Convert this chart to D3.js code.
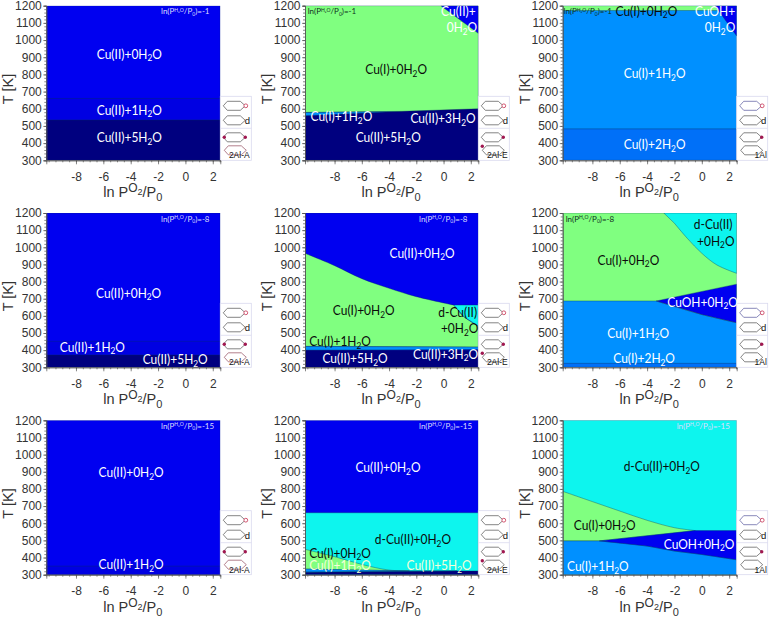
<!DOCTYPE html>
<html><head><meta charset="utf-8">
<script src="https://cdnjs.cloudflare.com/ajax/libs/d3/7.8.5/d3.min.js"></script>
<style>html,body{margin:0;padding:0;background:#fff}svg{display:block}</style>
</head><body><svg id="c" width="770" height="621"></svg>
<script>
// ---------- data (ln P in x, T in K in y) ----------
const lnPDomain = [-10.17, 2.55];
const tempDomain = [300, 1200];
const xTickValues = [-8, -6, -4, -2, 0, 2];
const yTickValues = [300, 400, 500, 600, 700, 800, 900, 1000, 1100, 1200];
const waterLevels = [-1, -8, -15];
const siteNames = ["2Al-A", "2Al-E", "1Al"];

const L = lnPDomain[0], R = lnPDomain[1], B = tempDomain[0], U = tempDomain[1];
const band = (lo, hi) => [[L, lo], [R, lo], [R, hi], [L, hi]];

// region = [state, outline, optional [first,last] index ranges of the outline that are curved]
const regions00 = [["II0", band(B, U)], ["II1", band(B, 660)], ["II5", band(B, 535)]];
const regions01 = [
  ["II5", band(B, U)],
  ["I1", [[L, 560], [-3, 585], [L, 579]]],
  ["I0", [[L, 579], [-3, 585], [R, 600], [R, U], [L, U]]],
  ["II0", [[-0.2, U], [R, U], [R, 1039]]]
];
const regions02 = [
  ["I1", band(B, U)], ["I2", band(B, 483)], ["I0", band(1172, U)],
  ["II0", [[0.97, U], [R, U], [R, 1023]]]
];
const regions10 = [["II0", band(B, U)], ["II1", band(B, 452)], ["II5", band(B, 372)]];
const regions11 = [
  ["II0", band(B, U)],
  ["I0", [[L, 965], [-8, 893], [-6, 817], [-4, 761], [-2, 712], [0.75, 663], [1.5, 595], [R, 540], [R, 418], [L, 422]], [[0, 5], [5, 7]]],
  ["dII", [[0.75, 663], [R, 663], [R, 540], [1.5, 595]]],
  ["I1", [[L, 422], [R, 418], [R, 404], [L, 398]]],
  ["II5", band(B, 400)]
];
const regions12 = [
  ["I0", band(B, U)],
  ["dII", [[-2.78, U], [R, U], [R, 848], [1.1, 897], [0, 965], [-1.06, 1052], [-2, 1140]], [[2, 6]]],
  ["I1", [[L, 687], [-3.33, 687], [0, 608], [R, 560], [R, B], [L, B]], [[1, 3]]],
  ["II0", [[-3.33, 687], [R, 785], [R, 560], [0, 608]]],
  ["I2", band(B, 323)]
];
const regions20 = [["II0", band(B, U)], ["II1", band(B, 350)]];
const regions21 = [
  ["II0", band(B, U)],
  ["dII", band(B, 661)],
  ["I0", [[L, 448], [-8, 405], [-6, 360], [-4, 327], [-2.5, 322], [L, 333]], [[0, 4]]],
  ["I1", [[L, 333], [-2.5, 322], [1, 322], [L, 316]]],
  ["II5", [[L, B], [R, B], [R, 322], [1, 322], [L, 314]]]
];
const regions22 = [
  ["dII", band(B, U)],
  ["I0", [[L, 786], [-8, 726], [-6, 671], [-4, 617], [-2, 574], [-0.47, 557], [-7.5, 497], [L, 497]], [[0, 5]]],
  ["I1", [[L, 497], [-7.5, 497], [-4, 467], [-2, 438], [0, 418], [R, 387], [R, B], [L, B]], [[1, 5]]],
  ["II0", [[-7.5, 497], [-0.47, 557], [R, 557], [R, 387], [0, 418], [-2, 438], [-4, 467]]]
];

const labels00 = [["Cu(II)+0H_2O", -4.1, 890], ["Cu(II)+1H_2O", -4.1, 564], ["Cu(II)+5H_2O", -4.1, 405]];
const labels01 = [["Cu(II)+", 1.09, 1142], ["0H_2O", 1.35, 1045], ["Cu(I)+0H_2O", -3.48, 802], ["Cu(I)+1H_2O", -7.5, 527], ["Cu(II)+3H_2O", -0.04, 517], ["Cu(II)+5H_2O", -4.06, 405]];
const labels02 = [["Cu(I)+0H_2O", -4.05, 1142], ["CuOH+", 0.97, 1142], ["0H_2O", 1.33, 1045], ["Cu(I)+1H_2O", -3.45, 779], ["Cu(I)+2H_2O", -3.45, 364]];
const labels10 = [["Cu(II)+0H_2O", -4.15, 706], ["Cu(II)+1H_2O", -6.8, 391], ["Cu(II)+5H_2O", -0.75, 319]];
const labels11 = [["Cu(II)+0H_2O", -1.58, 938], ["Cu(I)+0H_2O", -5.86, 605], ["d-Cu(II)", 1.04, 595], ["+0H_2O", 1.18, 498], ["Cu(I)+1H_2O", -7.6, 422], ["Cu(II)+3H_2O", 0.15, 349], ["Cu(II)+5H_2O", -6.5, 323]];
const labels12 = [["d-Cu(II)", 0.83, 1107], ["+0H_2O", 1.02, 1010], ["Cu(I)+0H_2O", -5.37, 899], ["CuOH+0H_2O", 0.06, 654], ["Cu(I)+1H_2O", -4.65, 471], ["Cu(I)+2H_2O", -4.22, 323]];
const labels20 = [["Cu(II)+0H_2O", -3.97, 869], ["Cu(II)+1H_2O", -3.97, 333]];
const labels21 = [["Cu(II)+0H_2O", -4.08, 897], ["d-Cu(II)+0H_2O", -2.25, 477], ["Cu(I)+0H_2O", -7.6, 399], ["Cu(I)+1H_2O", -7.6, 327], ["Cu(II)+5H_2O", -0.33, 327]];
const labels22 = [["d-Cu(II)+0H_2O", -2.93, 903], ["Cu(I)+0H_2O", -7.1, 562], ["CuOH+0H_2O", -0.2, 452], ["Cu(I)+1H_2O", -7.6, 319]];

const darkLabels = { "01": [2], "02": [0], "11": [1, 2, 3, 4], "12": [0, 1, 2], "21": [1, 2], "22": [0, 1] };
const paleLabels = { "21": [3, 4] };

const panelRegions = [[regions00, regions01, regions02], [regions10, regions11, regions12], [regions20, regions21, regions22]];
const panelLabels = [[labels00, labels01, labels02], [labels10, labels11, labels12], [labels20, labels21, labels22]];

// ---------- layout and style ----------
const colLeft = [46.3, 305, 562.7], colRight = [220.3, 478.3, 736.7];
const rowTop = [5.7, 213, 420.3], rowBottom = [160.3, 367.3, 574.7];
const stateColor = { II0: "#0000f0", II1: "#0000e2", II5: "#00007f", I0: "#80ff80", I1: "#0090ff", I2: "#0070f8", dII: "#0df5ee" };
const labelFont = "Lato, 'Open Sans', sans-serif", axisFont = "'Liberation Sans', Arial, sans-serif";
const titlePos = [[161, 307.7, 563.5], [161, 419, 565.7], [161, 419, 676.7]];
const titleDark = { "01": 1, "02": 1, "12": 1 };

const svg = d3.select("#c");

function rich(sel, str, subDy, subSize) {
  str.split("_").forEach((part, i) => {
    if (i === 0) { sel.append("tspan").text(part); return; }
    sel.append("tspan").attr("dy", subDy).attr("font-size", subSize).text(part[0]);
    if (part.length > 1) sel.append("tspan").attr("dy", -subDy).text(part.slice(1));
  });
}

function icons(g, x0, y0, site) {
  const box = g.append("g").attr("transform", `translate(${x0},${y0})`);
  box.append("rect").attr("width", 31).attr("height", 64).attr("fill", "#fff").attr("stroke", "#d9d9ee").attr("stroke-width", 0.8);
  box.append("line").attr("x1", 0).attr("x2", 31).attr("y1", 32).attr("y2", 32).attr("stroke", "#d9d9ee").attr("stroke-width", 0.8);
  const ring = (cx, cy, col) => box.append("path")
    .attr("d", `M${cx - 11} ${cy}L${cx - 7} ${cy - 4.5}H${cx + 6}L${cx + 11} ${cy}L${cx + 6} ${cy + 4.5}H${cx - 7}Z`)
    .attr("fill", "none").attr("stroke", col).attr("stroke-width", 0.8);
  ring(14, 9.5, site === "1Al" ? "#6a6aa8" : "#666");
  ring(14, 24, "#666");
  ring(14, 41, "#666");
  ring(15, 54, site === "2Al-A" ? "#a06070" : "#666");
  box.append("circle").attr("cx", 25.5).attr("cy", 9.5).attr("r", 1.9).attr("fill", "#fff").attr("stroke", "#c83050").attr("stroke-width", 0.8);
  const dot = (x, y) => box.append("circle").attr("cx", x).attr("cy", y).attr("r", 1.7).attr("fill", "#a01850");
  dot(25, 41);
  if (site === "2Al-A") dot(4, 41);
  if (site === "2Al-E") dot(4, 50);
  box.append("text").attr("x", 27).attr("y", 28).attr("text-anchor", "middle").attr("font-family", axisFont).attr("font-size", 9.5).attr("fill", "#111").text("d");
  box.append("text").attr("x", site === "1Al" ? 24 : 19).attr("y", 62).attr("text-anchor", "middle").attr("font-family", axisFont).attr("font-size", 8.5).attr("fill", "#111").text(site);
}

waterLevels.forEach((level, r) => {
  siteNames.forEach((site, c) => {
    const key = `${r}${c}`;
    const x = d3.scaleLinear().domain(lnPDomain).range([colLeft[c], colRight[c]]);
    const y = d3.scaleLinear().domain(tempDomain).range([rowBottom[r], rowTop[r]]);
    const g = svg.append("g");
    const clipId = `clip${key}`;
    g.append("clipPath").attr("id", clipId).append("rect")
      .attr("x", colLeft[c]).attr("y", rowTop[r]).attr("width", colRight[c] - colLeft[c]).attr("height", rowBottom[r] - rowTop[r]);
    const line = d3.line().x(d => x(d[0])).y(d => y(d[1]));
    const smooth = d3.line().x(d => x(d[0])).y(d => y(d[1])).curve(d3.curveCatmullRom);
    const outline = d => {
      const pts = d[1], ranges = d[2] || [];
      let s = "", i = 0;
      const cont = str => (s ? str.replace(/^M/, "L") : str);
      ranges.forEach(([a, b]) => {
        if (i < a) { s += cont(line(pts.slice(i, a + 1))); }
        s += cont(smooth(pts.slice(a, b + 1)));
        i = b;
      });
      if (i < pts.length - 1) s += cont(line(pts.slice(i)));
      return s + "Z";
    };
    const plot = g.append("g").attr("clip-path", `url(#${clipId})`);
    plot.selectAll("path").data(panelRegions[r][c]).join("path")
      .attr("d", outline)
      .attr("fill", d => stateColor[d[0]])
      .attr("stroke", "#06305a").attr("stroke-opacity", 0.6).attr("stroke-width", 0.6);

    icons(g, colRight[c], rowBottom[r] - 64, site);

    // axes
    const xAxis = d3.axisBottom(x).tickValues(d3.range(-10, 2.51, 0.5)).tickSize(2).tickFormat("");
    const yAxis = d3.axisLeft(y).tickValues(d3.range(300, 1201, 20)).tickSize(2).tickFormat("");
    const xMajor = d3.axisBottom(x).tickValues(xTickValues).tickSize(4).tickPadding(8).tickFormat(d => String(d));
    const yMajor = d3.axisLeft(y).tickValues(yTickValues).tickSize(3).tickPadding(1.5).tickFormat(d => String(d));
    [[xAxis, `0,${rowBottom[r]}`], [xMajor, `0,${rowBottom[r]}`], [yAxis, `${colLeft[c]},0`], [yMajor, `${colLeft[c]},0`]].forEach(([ax, tr]) => {
      const a = g.append("g").attr("transform", `translate(${tr})`).call(ax);
      a.selectAll("path,line").attr("stroke", "#555").attr("stroke-width", 0.7);
      a.selectAll("text").attr("font-family", axisFont).attr("font-size", 12).attr("fill", "#333");
    });

    // region labels
    panelLabels[r][c].forEach((l, i) => {
      const dark = (darkLabels[key] || []).includes(i), pale = (paleLabels[key] || []).includes(i);
      const t = g.append("text").attr("x", x(l[1])).attr("y", y(l[2]))
        .attr("text-anchor", "middle").attr("font-family", labelFont).attr("font-size", 13)
        .attr("fill", dark ? "#0a0a0a" : pale ? "#f4ffd8" : "#fff");
      rich(t, l[0], 2.5, 9);
      t.attr("textLength", t.node().getComputedTextLength() * 0.92).attr("lengthAdjust", "spacingAndGlyphs");
    });

    // water pressure note
    const tt = g.append("text").attr("x", titlePos[r][c]).attr("y", rowTop[r] + 8.5)
      .attr("font-family", labelFont).attr("font-size", 8)
      .attr("fill", titleDark[key] ? "#103020" : "#dcdcff");
    tt.append("tspan").text("ln(P");
    tt.append("tspan").attr("dy", -2.5).attr("font-size", 5).text("H₂O");
    tt.append("tspan").attr("dy", 2.5).text("/P");
    tt.append("tspan").attr("dy", 1.5).attr("font-size", 5).text("0");
    tt.append("tspan").attr("dy", -1.5).text(`)=${level}`);

    // axis titles
    const xt = g.append("text").attr("x", (colLeft[c] + colRight[c]) / 2 - 0.5).attr("y", rowBottom[r] + 37)
      .attr("text-anchor", "middle").attr("font-family", axisFont).attr("font-size", 14.5).attr("fill", "#333");
    xt.append("tspan").text("ln P");
    xt.append("tspan").attr("dy", -5).attr("font-size", 12).text("O");
    xt.append("tspan").attr("dy", 3).attr("font-size", 9).text("2");
    xt.append("tspan").attr("dy", 2).text("/P");
    xt.append("tspan").attr("dy", 4).attr("font-size", 11).text("0");
    g.append("text").attr("transform", `translate(${colLeft[c] - 33},${(rowTop[r] + rowBottom[r]) / 2 + 6}) rotate(-90)`)
      .attr("text-anchor", "middle").attr("font-family", axisFont).attr("font-size", 14.5).attr("fill", "#333").text("T [K]");
  });
});
</script></body></html>
